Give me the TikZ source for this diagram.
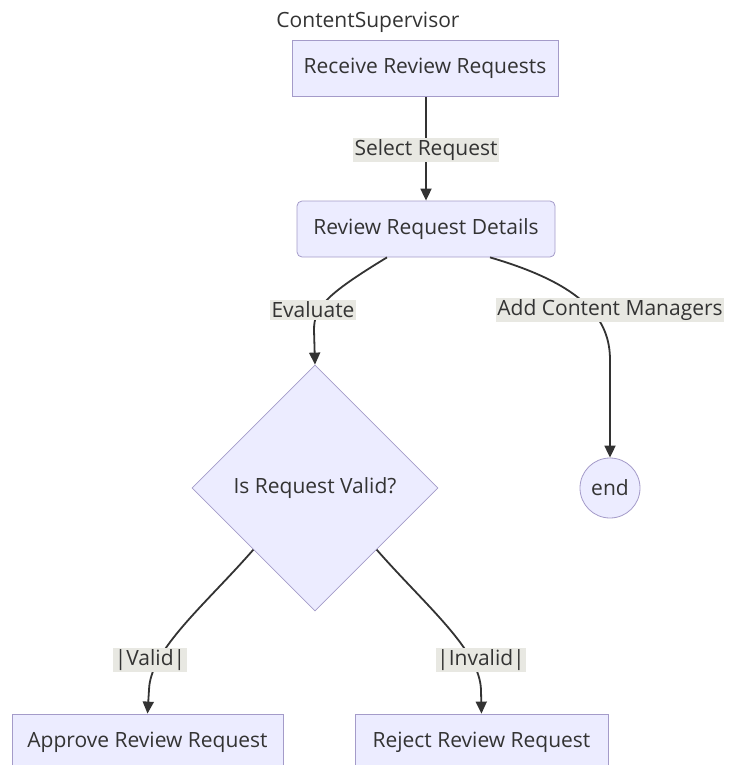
\documentclass[tikz,border=0pt]{standalone}
\usepackage{fontspec}
\setmainfont{Open Sans}
\usetikzlibrary{shapes.geometric,arrows.meta,calc}
\definecolor{nodefill}{HTML}{ECECFF}
\definecolor{nodeline}{HTML}{A49BC9}
\definecolor{ink}{HTML}{333333}
\definecolor{lblbg}{HTML}{E8E8E2}
\begin{document}
\begin{tikzpicture}[x=1pt,y=-1pt,
  font=\fontsize{21}{25}\selectfont,
  every node/.style={text=ink},
  box/.style={draw=nodeline, fill=nodefill, line width=0.8pt,
    minimum height=56pt, inner sep=0pt},
  decision/.style={diamond, draw=nodeline, fill=nodefill, line width=0.8pt,
    minimum width=246pt, minimum height=246pt, inner sep=0pt},
  terminal/.style={circle, draw=nodeline, fill=nodefill, line width=0.8pt,
    minimum size=60pt, inner sep=0pt},
  lbl/.style={fill=lblbg, inner sep=1.5pt},
  flow/.style={draw=ink, line width=1.8pt,
    -{Triangle[length=12pt,width=11pt]}}]
\useasboundingbox (0,0) rectangle (728,765);

% swimlane title
\node (lane) at (368,22) {ContentSupervisor};

% steps
\node[box, minimum width=266pt] (recv) at (425,68.5) {Receive Review Requests};
\node[box, rounded corners=5pt, minimum width=258pt] (det) at (426,229) {Review Request Details};
\node[decision] (valid) at (315,488) {Is Request Valid?};
\node[terminal] (end) at (610,488) {end};
\node[box, minimum width=271pt] (approve) at (147.5,742) {Approve Review Request};
\node[box, minimum width=253pt] (reject) at (481.5,742) {Reject Review Request};

% connectors
\draw[flow] (recv.south -| det.north) -- (det.north);
\node[lbl] (lsel) at (426,150) {Select Request};

\draw[flow] ($(det.south)+(-39,0)$) .. controls (325,295) and (314,308) .. (314,330) -- (valid.north);
\node[lbl] (leval) at (313,310) {Evaluate};

\draw[flow] ($(det.south)+(64,0)$) .. controls (585,285) and (610,320) .. (610,360) -- (end.north);
\node[lbl] (ladd) at (610,310) {Add Content Managers};

\draw[flow] (valid.south west) .. controls (205,605) and (150,650) .. (149,690) -- (approve.north);
\node[lbl] (lval) at (150,660) {|Valid|};

\draw[flow] (valid.south east) .. controls (425,605) and (480,650) .. (481,690) -- (reject.north);
\node[lbl] (linv) at (481,660) {|Invalid|};
\end{tikzpicture}
\end{document}
